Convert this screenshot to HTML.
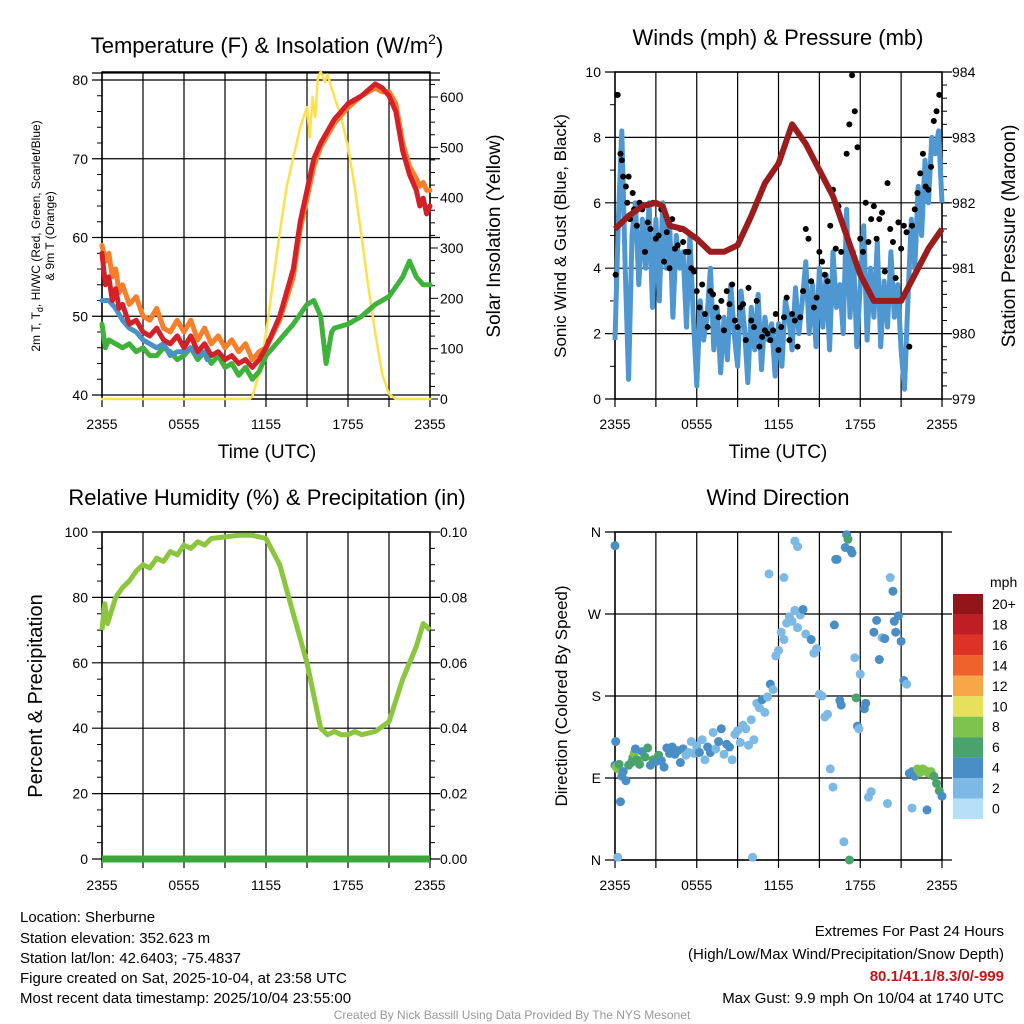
<!DOCTYPE html>
<html><head><meta charset="utf-8"><style>
html,body{margin:0;padding:0;background:#fff}
svg{display:block;font-family:"Liberation Sans",Arial,sans-serif}
</style></head><body>
<svg id="s" width="1024" height="1024" viewBox="0 0 1024 1024">
<rect width="1024" height="1024" fill="#fff"/>
<text x="267" y="53" font-size="22" text-anchor="middle">Temperature (F) &amp; Insolation (W/m<tspan font-size="14" dy="-9">2</tspan><tspan dy="9">)</tspan></text>
<text x="778" y="45" font-size="22" text-anchor="middle">Winds (mph) &amp; Pressure (mb)</text>
<text x="267" y="505" font-size="22" text-anchor="middle">Relative Humidity (%) &amp; Precipitation (in)</text>
<text x="778" y="505" font-size="22" text-anchor="middle">Wind Direction</text>
<text font-size="12" transform="translate(40,236) rotate(-90)" text-anchor="middle">2m T, T<tspan font-size="9" dy="3">d</tspan><tspan dy="-3">, HI/WC (Red, Green, Scarlet/Blue)</tspan></text>
<text font-size="12" transform="translate(54,236) rotate(-90)" text-anchor="middle">&amp; 9m T (Orange)</text>
<text font-size="19" transform="translate(500,236) rotate(-90)" text-anchor="middle">Solar Insolation (Yellow)</text>
<text font-size="17" transform="translate(566,236) rotate(-90)" text-anchor="middle">Sonic Wind &amp; Gust (Blue, Black)</text>
<text font-size="19" transform="translate(1015,236) rotate(-90)" text-anchor="middle">Station Pressure (Maroon)</text>
<text font-size="20" transform="translate(42,696) rotate(-90)" text-anchor="middle">Percent &amp; Precipitation</text>
<text font-size="17" transform="translate(567,696) rotate(-90)" text-anchor="middle">Direction (Colored By Speed)</text>
<text x="267" y="458" font-size="19" text-anchor="middle">Time (UTC)</text>
<text x="778" y="458" font-size="19" text-anchor="middle">Time (UTC)</text>
<g font-size="15">
<text x="20" y="922">Location: Sherburne</text>
<text x="20" y="943">Station elevation: 352.623 m</text>
<text x="20" y="963">Station lat/lon: 42.6403; -75.4837</text>
<text x="20" y="983">Figure created on Sat, 2025-10-04, at 23:58 UTC</text>
<text x="20" y="1003">Most recent data timestamp: 2025/10/04 23:55:00</text>
</g>
<g font-size="15" text-anchor="end">
<text x="1004" y="936">Extremes For Past 24 Hours</text>
<text x="1004" y="959">(High/Low/Max Wind/Precipitation/Snow Depth)</text>
<text x="1004" y="981" fill="#c4161c" font-weight="bold">80.1/41.1/8.3/0/-999</text>
<text x="1004" y="1003">Max Gust: 9.9 mph On 10/04 at 1740 UTC</text>
</g>
<text x="512" y="1019" font-size="12" fill="#999" text-anchor="middle">Created By Nick Bassill Using Data Provided By The NYS Mesonet</text>
</svg>
<script>
// ---- data ----
const xTickLabels = ["2355","0555","1155","1755","2355"];
const tempTimes = [0,0.25,0.5,0.75,1,1.25,1.5,2,2.5,3,3.5,4,4.5,5,5.5,6,6.5,7,7.5,8,8.5,9,9.5,10,10.5,11,11.5,12,13,14,14.5,15,15.5,16,16.5,17,17.5,18,19,20,20.5,21,21.5,22,22.5,23,23.25,23.5,23.75,24];
const tempRed   = [58,54,55,52,53.5,51,51.5,49,49.5,48,47.5,48.5,47,46.5,47.5,46,47.5,45.5,46.5,45,45.5,44.5,45,44,44.5,43.5,44.5,46,50,56,62,66,70,72,73.5,75,76,77,78,79.5,79,78,76,71,68,66,64,65,63,64];
const tempOrange= [59,57,58,55,56,53,54,51.5,52.5,50,49.5,51,48.5,48,49.5,48,49.5,47,48.5,46.5,47.5,46,47,45.5,46.5,44.5,45.5,46,49.5,55,61,65,69,71.5,73,74.5,75.5,76.5,78,79,78.5,78.5,77,72,69,67.5,66.5,67,66,66];
const blueTimes = [0,0.5,1,1.5,2,2.5,3,3.5,4,4.5,5,5.5,6,6.5,7,7.5,7.7];
const tempBlue  = [52,52,51,49.5,48.5,48,47,46.5,46,46.5,45,45.5,45.5,46,45,45.5,44.5];
const greenTimes= [0,0.25,0.5,1,1.5,2,2.5,3,3.5,4,4.5,5,5.5,6,6.5,7,7.5,8,8.5,9,9.5,10,10.5,11,11.5,12,13,14,15,15.5,16,16.4,16.8,17,18,19,20,21,22,22.5,23,23.5,24];
const tempGreen = [49,46,47,46.5,46,46.5,45.5,46,45,45,46,45.5,44.5,45,46,44.5,45.5,44,45,43.5,44,42.5,43.5,42,43,45,47,49,51.5,52,50,44,48,48.5,49,50,51.5,52.5,55,57,55,54,54];
const solarTimes= [0,10.8,11,11.5,12,12.5,13,13.5,14,14.5,15,15.2,15.4,15.6,15.8,16,16.3,16.5,17,17.5,18,18.5,19,19.5,20,20.5,21,21.5,24];
const solarVals = [0,0,5,50,130,230,330,420,480,540,580,520,600,560,640,650,630,645,600,560,500,420,320,220,130,50,10,0,0];
const windVals = [1.8,5.5,8.2,4,0.6,5,6,3.5,5.5,4,6,2.8,5.5,3,6,4,5.5,2.5,5,4,4.5,2.2,5,2.5,0.4,3,1.8,2.5,4,1.5,2.8,0.8,2.5,1.2,3.5,2,1,3.3,2.2,0.5,2.8,1.5,3.2,0.9,2.5,1.8,2.3,0.7,2.3,1,3,2.5,1.5,3.4,2,3,4.2,2,3.5,1.6,4,2.2,3.8,1.5,4.5,2.8,3.5,2,5.8,2.5,4.5,1.6,3.5,5.3,1.8,4,2.5,4.8,1.6,3.6,2.2,4.5,2.5,3.5,1.5,0.3,3,5.5,4,6.5,5,7.3,6,8,7.5,8.2,6];
const gustTimes = [0.05,0.15,0.2,0.4,0.5,0.6,0.8,0.9,1,1.1,1.3,1.4,1.6,1.8,2,2.2,2.4,2.6,2.8,3,3.2,3.4,3.6,3.8,4,4.2,4.4,4.6,4.8,5,5.2,5.4,5.6,5.8,6,6.2,6.4,6.6,6.8,7,7.2,7.4,7.6,7.8,8,8.2,8.4,8.6,8.8,9,9.2,9.4,9.6,9.8,10,10.2,10.4,10.6,10.8,11,11.2,11.4,11.6,11.8,12,12.2,12.4,12.6,12.8,13,13.2,13.4,13.6,13.8,14,14.2,14.4,14.6,14.8,15,15.2,15.4,15.6,15.8,16,16.2,16.4,16.6,17,17.2,17.4,17.6,17.8,18,18.2,18.4,18.6,18.8,19,19.2,19.4,19.6,19.8,20,20.2,20.4,20.6,20.8,21,21.2,21.4,21.6,21.8,22,22.2,22.4,22.6,22.8,23,23.2,23.4,23.6,23.8];
const gustVals  = [3.8,9.3,9.3,7.5,7.3,6.8,6.5,6,6.8,5.5,6.3,5.8,5.3,6,5.8,4.5,5.4,5.2,6,4.9,5,5.8,4.2,5.1,4,5.5,4.6,4.7,5.2,4.8,4.5,4.5,4,3.9,3.3,2.8,3.5,2.6,2.2,3.3,3.2,2.8,2.5,3,2.1,3.3,2.9,3.5,2.4,2.2,2.8,2.9,1.8,3.4,2.4,2.2,3,1.6,1.9,2.1,2,1.8,2.1,2.6,1.5,2.2,2.5,3.1,1.8,2.6,2.4,1.6,2.5,3.3,5.2,4.9,3.6,2.8,3.1,4.5,4.2,3.8,3.6,5.3,6.4,4.6,5.9,4.5,7.5,8.4,9.9,8.8,7.7,4.9,4.5,6,4.8,5.5,5.9,4.9,5.5,5.7,3.9,6.6,5.2,4.8,3.7,5.4,4.6,5.3,5.1,1.6,5.3,5.8,6.3,6.9,7.5,6.5,6.4,7.1,8.5,8.8,9.3];
const presTimes = [0,1,2,3,3.5,4,5,6,7,8,9,10,11,12,13,14,15,16,17,18,19,20,21,22,23,24];
const presVals  = [981.6,981.8,981.95,982.0,981.95,981.65,981.6,981.45,981.25,981.25,981.35,981.8,982.3,982.6,983.2,982.9,982.5,982.1,981.5,980.9,980.5,980.5,980.5,980.9,981.3,981.6];
const rhTimes = [0,0.2,0.4,1,1.5,2,2.5,3,3.5,4,4.5,5,5.5,6,6.5,7,7.5,8,9,10,11,12,13,14,15,15.5,16,16.5,17,17.5,18,18.5,19,20,21,22,23,23.5,24];
const rhVals  = [70,78,72,80,83,85,88,90,89,92,91,94,93,96,95,97,96,98,98.5,99,99,98,90,75,60,50,40,38,39,38,38,39,38,39,42,55,65,72,70];
const precipTimes = [0,24];
const precipVals  = [0,0];
const dirTimes = [0,0.1,0.2,0.3,0.5,0.6,0.8,1,1.2,1.3,1.4,1.5,1.6,1.8,2,2.2,2.4,2.6,2.8,3,3.2,3.4,3.6,3.8,4,4.2,4.4,4.6,4.8,5,5.2,5.4,5.6,5.8,6,6.2,6.4,6.6,6.8,7,7.2,7.4,7.6,7.8,8,8.2,8.4,8.6,8.8,9,9.2,9.4,9.6,9.8,10,10.2,10.4,10.6,10.8,11,11.2,11.4,11.6,11.8,12,12.2,12.4,12.6,12.8,13,13.2,13.4,13.6,13.8,14,14.4,14.6,14.8,15,15.2,15.4,15.6,15.8,16,16.1,16.2,16.3,16.5,16.6,16.8,16.9,17,17.1,17.2,17.3,17.4,17.6,17.7,17.8,17.9,18,18.3,18.4,18.6,18.8,19,19.2,19.4,19.6,19.8,20,20.2,20.4,20.5,20.6,20.8,21,21.2,21.4,21.6,21.8,22,22.2,22.4,22.6,22.8,23,23.2,23.4,23.6,23.8,24,21.8,22.9,0,0.2,0.05,0.4,10.1,11.3,13.2,13.4,12.4];
const dirVals  = [104,102,100,105,92,97,87,104,107,112,117,122,110,105,119,113,123,104,110,108,115,109,102,123,117,124,116,120,107,122,115,118,130,117,125,118,132,110,124,118,140,122,130,144,116,127,124,110,138,142,129,148,144,126,154,132,172,167,176,162,179,193,187,224,230,250,242,260,267,262,274,255,269,275,248,242,227,232,182,180,157,160,100,80,258,330,330,175,170,20,343,357,352,0,340,337,222,178,147,144,204,166,172,69,75,250,263,220,244,243,62,310,295,262,250,268,240,197,193,95,97,92,100,96,100,98,95,97,92,84,76,70,57,55,345,3,130,64,3,314,350,344,310];
const dirSpeeds= [4,7,8,5,4,3,4,6,6,5,7,4,6,6,4,5,5,4,5,4,5,3,3,4,4,3,3,3,3,3,2,2,2,2,2,3,2,2,3,3,1,2,3,4,2,3,3,2,2,2,2,2,1,2,1,2,1,2,3,2,2,3,2,1,1,2,2,2,2,2,2,1,2,3,2,3,2,1,2,2,2,2,2,1,3,3,3,3,4,2,4,4,6,6,3,3,2,6,4,2,2,3,3,2,2,4,4,4,2,3,2,2,3,4,4,3,3,3,1,4,4,4,8,7,8,7,7,7,6,6,5,4,1,4,3,1,4,4,1,1,1,1,2];
const speedLabels = ["20+","18","16","14","12","10","8","6","4","2","0"];
const speedColors = ["#921519","#be1e24","#dd3326","#f0622b","#f7a747","#e6e05a","#7ec34d","#4aa36d","#4a8ec6","#7db9e5","#b5e0f7"];

// ---- drawing ----
const NS="http://www.w3.org/2000/svg", svg=document.getElementById('s');
function el(tag,attrs,parent){const e=document.createElementNS(NS,tag);for(const k in attrs)e.setAttribute(k,attrs[k]);(parent||svg).appendChild(e);return e;}
function lin(d0,d1,r0,r1){return v=>r0+(v-d0)*(r1-r0)/(d1-d0);}
function path(xs,ys,fx,fy){return xs.map((t,i)=>(i?'L':'M')+fx(t).toFixed(1)+','+fy(ys[i]).toFixed(1)).join('');}

function frame(L,R,T,B,g){
  for(let k=0;k<=8;k++){const x=L+(R-L)*k/8;
    const ln=el('line',{x1:x,x2:x,y1:T,y2:B+8,stroke:'#000','stroke-width':1.2},g);
    
    }
  xTickLabels.forEach((s,i)=>{const t=el('text',{x:L+(R-L)*i/4,y:B+30,'font-size':14,'text-anchor':'middle'},g);t.textContent=s;
    
    });
  el('rect',{x:L,y:T,width:R-L,height:B-T,fill:'none',stroke:'#000','stroke-width':1.5},g);
}
function yaxis(L,R,vals,fy,labels,g,side,minor){
  vals.forEach((v,i)=>{const y=fy(v);
    if(side==='left'){el('line',{x1:L-10,x2:R+10,y1:y,y2:y,stroke:'#000','stroke-width':1.2},g);}
    const t=el('text',{x:side==='left'?L-14:R+10,y:y+5,'font-size':14,'text-anchor':side==='left'?'end':'start'},g);t.textContent=labels[i];
    
    
    if(side==='right')el('line',{x1:R,x2:R+8,y1:y,y2:y,stroke:'#000','stroke-width':1},g);
  });
  (minor||[]).forEach(v=>{const y=fy(v);if(side==='left')el('line',{x1:L-5,x2:L,y1:y,y2:y,stroke:'#000'},g);else el('line',{x1:R,x2:R+5,y1:y,y2:y,stroke:'#000'},g);});
}

// Panel 1
(function(){
  const g=el('g',{});
  const L=102,R=430,T=72,B=399;
  const fx=lin(0,24,L,R), fy=lin(40,80,395,80), fs=lin(0,600,399,97);
  frame(L,R,T,B,g);
  el('line',{x1:L-10,x2:R+10,y1:T+1,y2:T+1,stroke:'#000','stroke-width':1.2},g);
  const tv=[40,50,60,70,80];yaxis(L,R,tv,fy,tv.map(String),g,'left',[42,44,46,48,52,54,56,58,62,64,66,68,72,74,76,78]);
  const sv=[0,100,200,300,400,500,600];yaxis(L,R,sv,fs,sv.map(String),g,'right',[25,50,75,125,150,175,225,250,275,325,350,375,425,450,475,525,550,575,625]);
  const series=[[solarTimes,solarVals,'#fde14c',2.5,fs,'solar-insolation-line'],[greenTimes,tempGreen,'#3fb23c',5,fy,'dewpoint-line'],[blueTimes,tempBlue,'#4a90c9',5,fy,'wind-chill-line'],[tempTimes,tempOrange,'#f57f2a',5,fy,'temp-9m-line'],[tempTimes,tempRed,'#d42028',5,fy,'temp-2m-line']];
  series.forEach(s=>{const p=el('path',{d:path(s[0],s[1],fx,s[4]),fill:'none',stroke:s[2],'stroke-width':s[3],'stroke-linejoin':'round','stroke-linecap':'round'},g);
    
    });
})();

// Panel 2
(function(){
  const g=el('g',{});
  const L=615,R=942,T=72,B=399;
  const fx=lin(0,24,L,R), fy=lin(0,10,399,72), fp=lin(979,984,399,72);
  frame(L,R,T,B,g);
  const wv=[0,2,4,6,8,10];yaxis(L,R,wv,fy,wv.map(String),g,'left',[1,3,5,7,9]);
  const pv=[979,980,981,982,983,984];yaxis(L,R,pv,fp,pv.map(String),g,'right',[979.2,979.4,979.6,979.8,980.2,980.4,980.6,980.8,981.2,981.4,981.6,981.8,982.2,982.4,982.6,982.8,983.2,983.4,983.6,983.8]);
  const wt=windVals.map((v,i)=>24*i/(windVals.length-1));
  const w=el('path',{d:path(wt,windVals,fx,fy),fill:'none',stroke:'#4f97d1','stroke-width':5,'stroke-linejoin':'round'},g);
  
  
  gustTimes.forEach((t,i)=>{const c=el('circle',{cx:fx(t),cy:fy(gustVals[i]),r:3,fill:'#000'},g);
    
    });
  const p=el('path',{d:path(presTimes,presVals,fx,fp),fill:'none',stroke:'#9b1c1c','stroke-width':6,'stroke-linejoin':'round'},g);
  
  
})();

// Panel 3
(function(){
  const g=el('g',{});
  const L=102,R=430,T=532,B=860;
  const fx=lin(0,24,L,R), fy=lin(0,100,859,532), fpr=lin(0,0.1,859,532);
  frame(L,R,T,B,g);
  const hv=[0,20,40,60,80,100];yaxis(L,R,hv,fy,hv.map(String),g,'left',[5,10,15,25,30,35,45,50,55,65,70,75,85,90,95]);
  const prv=[0,0.02,0.04,0.06,0.08,0.1];yaxis(L,R,prv,fpr,prv.map(v=>v.toFixed(2)),g,'right',[0.005,0.01,0.015,0.025,0.03,0.035,0.045,0.05,0.055,0.065,0.07,0.075,0.085,0.09,0.095]);
  const h=el('path',{d:path(rhTimes,rhVals,fx,fy),fill:'none',stroke:'#8cc63f','stroke-width':5,'stroke-linejoin':'round'},g);
  
  
  const pr=el('path',{d:path(precipTimes,precipVals,fx,fpr),fill:'none',stroke:'#3aa63a','stroke-width':7},g);
  
  
})();

// Panel 4
(function(){
  const g=el('g',{});
  const L=615,R=942,T=532,B=860;
  const fx=lin(0,24,L,R), fy=lin(0,360,860,532);
  frame(L,R,T,B,g);
  yaxis(L,R,[0,90,180,270,360],fy,['N','E','S','W','N'],g,'left',[]);
  dirTimes.forEach((t,i)=>{const sp=dirSpeeds[i];const idx=Math.max(0,10-Math.min(10,Math.ceil(sp/2)));
    const c=el('circle',{cx:fx(t),cy:fy(dirVals[i]),r:4.5,fill:speedColors[idx]},g);
    
    });
  const cb=el('g',{});
  const t0=el('text',{x:990,y:587,'font-size':14},cb);t0.textContent='mph';
  speedColors.forEach((c,i)=>{const y=594+i*20.45;el('rect',{x:953,y:y,width:30,height:20.45,fill:c},cb);
    const t=el('text',{x:992,y:y+15,'font-size':14},cb);t.textContent=speedLabels[i];
    
    });
})();
</script>
</body></html>
